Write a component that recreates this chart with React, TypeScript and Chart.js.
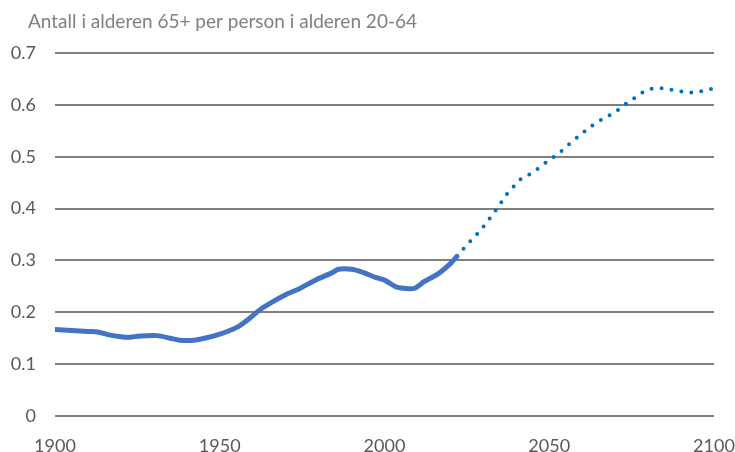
import React, { useEffect, useRef } from "react";
import { Chart, registerables } from "chart.js";

Chart.register(...registerables);

const titleText = "Antall i alderen 65+ per person i alderen 20-64";

const historicYears = [
  1900, 1905, 1910, 1913, 1916, 1920, 1923, 1925, 1931, 1935, 1938, 1942, 1946, 1950, 1953,
  1956, 1959, 1962, 1966, 1970, 1974, 1979, 1984, 1986, 1990, 1993, 1997, 2000, 2004, 2009,
  2012, 2016, 2020, 2022,
];
const historicValues = [
  0.167, 0.165, 0.163, 0.162, 0.157, 0.153, 0.152, 0.154, 0.155, 0.15, 0.146, 0.146, 0.151,
  0.158, 0.165, 0.174, 0.188, 0.204, 0.22, 0.234, 0.245, 0.262, 0.276, 0.283, 0.283, 0.278,
  0.268, 0.262, 0.248, 0.246, 0.259, 0.273, 0.294, 0.308,
];

const projectionYears = [
  2022, 2025, 2028, 2030, 2033, 2035, 2037, 2039, 2041, 2044, 2047, 2050, 2053, 2056, 2060,
  2063, 2066, 2070, 2073, 2076, 2078, 2081, 2084, 2087, 2090, 2093, 2096, 2100,
];
const projectionValues = [
  0.308, 0.33, 0.35, 0.365, 0.39, 0.408, 0.427, 0.441, 0.455, 0.466, 0.479, 0.494, 0.507,
  0.524, 0.545, 0.56, 0.572, 0.586, 0.601, 0.614, 0.623, 0.631, 0.632, 0.629, 0.626, 0.624,
  0.626, 0.632,
];

const yTickLabels = ["0", "0.1", "0.2", "0.3", "0.4", "0.5", "0.6", "0.7"];
const xTickLabels = ["1900", "1950", "2000", "2050", "2100"];

const FONT = "Lato, 'Open Sans', sans-serif";

export default function App() {
  const ref = useRef<HTMLCanvasElement | null>(null);

  useEffect(() => {
    const canvas = ref.current;
    if (!canvas) return;

    const titlePlugin = {
      id: "customTitle",
      afterDraw(chart: any) {
        const ctx = chart.ctx;
        ctx.save();
        ctx.font = `19px ${FONT}`;
        ctx.fillStyle = "#808080";
        ctx.textAlign = "left";
        ctx.textBaseline = "middle";
        ctx.fillText(titleText, 28, 22);
        ctx.restore();
      },
    };

    const chart = new Chart(canvas, {
      type: "line",
      data: {
        datasets: [
          {
            label: "historic",
            data: historicYears.map((x, i) => ({ x, y: historicValues[i] })),
            borderColor: "#4472C4",
            borderWidth: 5,
            pointRadius: 0,
            tension: 0.2,
            borderCapStyle: "round",
            borderJoinStyle: "round",
          },
          {
            label: "projection",
            data: projectionYears.map((x, i) => ({ x, y: projectionValues[i] })),
            borderColor: "#0070C0",
            borderWidth: 4,
            pointRadius: 0,
            cubicInterpolationMode: "monotone",
            borderDash: [0, 10],
            borderCapStyle: "round",
          },
        ],
      },
      options: {
        responsive: false,
        animation: false,
        devicePixelRatio: 1,
        layout: { padding: { top: 53, right: 0, left: 0, bottom: 0 } },
        plugins: {
          legend: { display: false },
          title: { display: false },
          tooltip: { enabled: false },
        },
        scales: {
          x: {
            type: "linear",
            min: 1900,
            max: 2100,
            afterFit: (scale: any) => {
              scale.height = 36;
              scale.paddingRight = 21;
              scale.paddingLeft = 0;
            },
            afterBuildTicks: (scale: any) => {
              scale.ticks = xTickLabels.map((l) => ({ value: Number(l) }));
            },
            grid: { display: false, drawTicks: false },
            border: { display: false },
            ticks: {
              autoSkip: false,
              maxRotation: 0,
              padding: 19,
              color: "#595959",
              font: { family: FONT, size: 18 },
              callback: (v: any) => {
                const s = String(v);
                return xTickLabels.includes(s) ? s : "";
              },
            },
          },
          y: {
            min: 0,
            max: 0.7,
            afterFit: (scale: any) => {
              scale.width = 55;
            },
            afterBuildTicks: (scale: any) => {
              scale.ticks = yTickLabels.map((l) => ({ value: Number(l) }));
            },
            grid: { color: "#808080", lineWidth: 2, drawTicks: false },
            border: { display: false },
            ticks: {
              padding: 19,
              color: "#595959",
              font: { family: FONT, size: 18 },
              callback: (v: any) => {
                const idx = yTickLabels.findIndex((l) => Math.abs(Number(l) - Number(v)) < 1e-6);
                return idx >= 0 ? yTickLabels[idx] : "";
              },
            },
          },
        },
      },
      plugins: [titlePlugin],
    });

    return () => chart.destroy();
  }, []);

  return (
    <div style={{ position: "fixed", left: 0, top: 0, width: 735, height: 452, background: "#fff" }}>
      <canvas ref={ref} width={735} height={452} style={{ display: "block" }} />
    </div>
  );
}
